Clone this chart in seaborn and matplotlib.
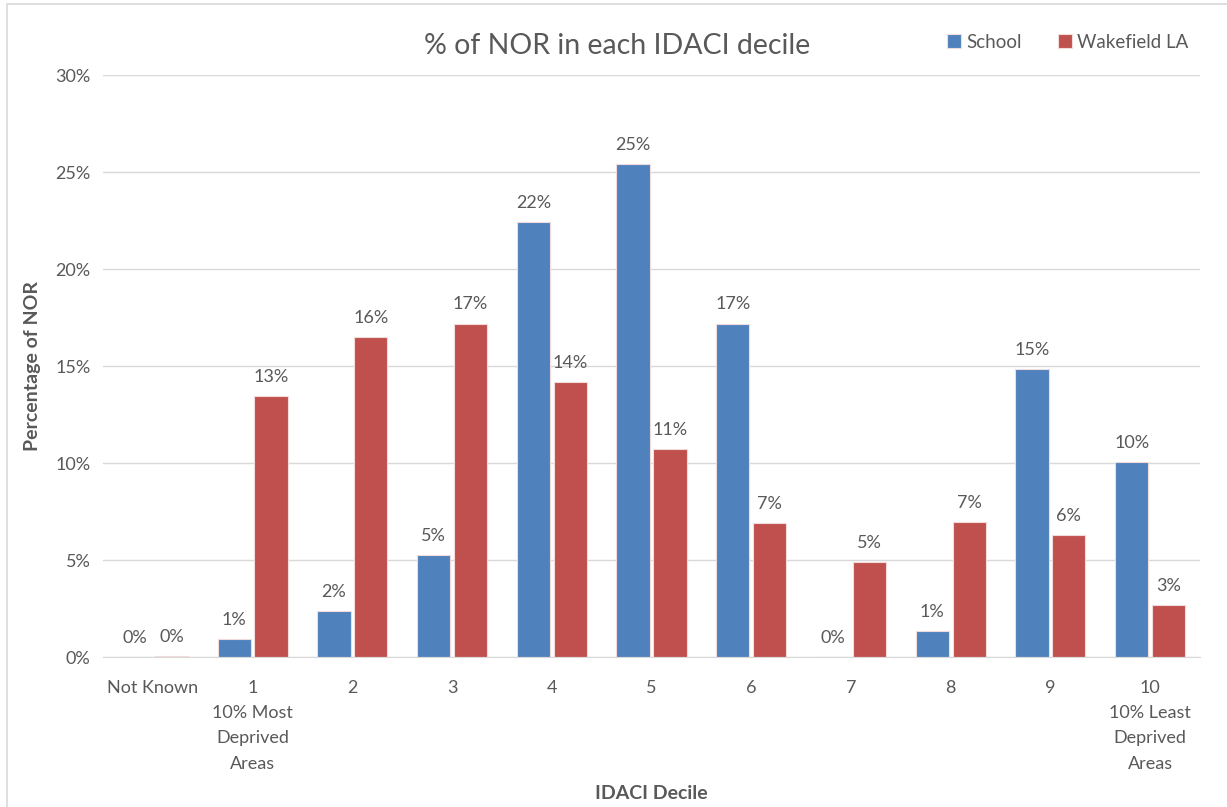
import pandas as pd
import matplotlib.pyplot as plt
import matplotlib.patches as patches
import seaborn as sns

# data (percent of NOR)
deciles = ["Not Known", "1\n10% Most\nDeprived\nAreas", "2", "3", "4", "5", "6", "7", "8", "9",
           "10\n10% Least\nDeprived\nAreas"]
school = [0.0, 0.95, 2.4, 5.28, 22.45, 25.4, 17.2, 0.0, 1.38, 14.86, 10.07]
wakefield = [0.07, 13.47, 16.5, 17.2, 14.19, 10.74, 6.93, 4.92, 6.98, 6.29, 2.69]
series = ["School", "Wakefield LA"]

df = pd.DataFrame({
    "decile": deciles * 2,
    "pct": school + wakefield,
    "series": [series[0]] * len(deciles) + [series[1]] * len(deciles),
})

sns.set_style("white")
plt.rcParams["font.family"] = ["Lato", "DejaVu Sans"]
grey = "#595959"

fig = plt.figure(figsize=(12.27, 8.07), dpi=100)
ax = fig.add_axes([0.084, 0.1853, 0.894, 0.7217])

sns.barplot(data=df, x="decile", y="pct", hue="series", order=deciles,
            palette=["#4F81BD", "#C0504D"], saturation=1, width=0.74, gap=0.1,
            edgecolor="#f2dcdb", linewidth=0.8, ax=ax, legend=True)

# data labels
for cont in ax.containers:
    labels = [f"{round(v.get_height())}%" for v in cont]
    ax.bar_label(cont, labels=labels, padding=8, fontsize=13, color=grey)

ax.set_ylim(0, 30)
ax.set_xlim(-0.5, 10.5)
ax.set_yticks(range(0, 31, 5))
ax.set_yticklabels([f"{t}%" for t in range(0, 31, 5)], fontsize=13, color=grey)
ax.tick_params(axis="x", labelsize=13, labelcolor=grey, length=0, pad=16)
ax.tick_params(axis="y", length=0, pad=9)
for lab in ax.get_xticklabels():
    lab.set_linespacing(1.72)
ax.yaxis.grid(True, color="#d9d9d9", linewidth=1)
ax.set_axisbelow(True)
for s in ["top", "right", "left"]:
    ax.spines[s].set_visible(False)
ax.spines["bottom"].set_color("#d9d9d9")

ax.set_xlabel("IDACI Decile", fontsize=14, fontweight="bold", color=grey)
ax.set_ylabel("Percentage of NOR", fontsize=14, fontweight="bold", color=grey)
ax.yaxis.set_label_coords(-0.057, 0.5)
ax.xaxis.set_label_coords(0.5, -0.219)

fig.text(0.503, 0.943, "% of NOR in each IDACI decile", ha="center", va="center",
         fontsize=20.5, color=grey)

leg = ax.legend(loc="upper right", bbox_to_anchor=(1.005, 1.1), ncol=2, frameon=False,
                fontsize=13.5, handlelength=0.75, handleheight=0.75, handletextpad=0.3,
                columnspacing=1.9, labelcolor=grey)

# light frame around the chart area like the source screenshot
fig.patches.append(patches.Rectangle((7 / 1227, -0.1), 1.2, 1.1 - 4 / 807,
                                     transform=fig.transFigure, fill=False,
                                     edgecolor="#d9d9d9", linewidth=1.2))

fig.savefig("out.png", dpi=100)
